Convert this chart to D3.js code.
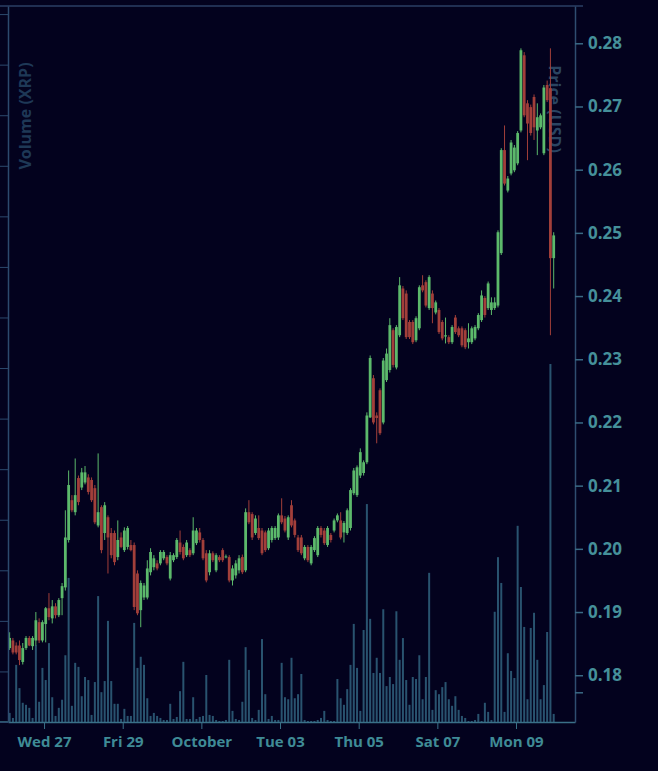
<!DOCTYPE html>
<html>
<head>
<meta charset="utf-8">
<script src="https://cdn.jsdelivr.net/npm/d3@7"></script>
<style>
  html, body { margin: 0; padding: 0; background: #03021e; }
  svg { display: block; }
  .labels { font-family: "Open Sans", sans-serif; font-weight: 700; font-size: 16px; }
  .tick text { font-family: "Open Sans", sans-serif; font-weight: 700; }
</style>
</head>
<body>
<svg id="candles"></svg>
<script>
// 2 hour candles, XRP/USD, Sep 26 - Oct 10 2017
let firstCandle = new Date(2017, 8, 26, 3);
let stepHours = 2;

let open = [
  0.1843,0.1855,0.1847,0.1847,0.1821,0.1843,0.1859,0.1846,0.1855,0.1884,
  0.1855,0.1881,0.1906,0.1890,0.1909,0.1895,0.1922,0.1939,0.2014,0.2077,
  0.2058,0.2112,0.2097,0.2105,0.2113,0.2109,0.2096,0.2037,0.2066,0.2025,
  0.2050,0.2025,0.2025,0.1987,0.2018,0.1998,0.2003,0.2006,0.2006,0.1961,
  0.1903,0.1923,0.1923,0.1963,0.1971,0.1977,0.1977,0.1985,0.1987,0.1953,
  0.1982,0.1987,0.2010,0.2003,0.1990,0.1998,0.1993,0.2009,0.2026,0.2014,
  0.1993,0.1963,0.1993,0.1966,0.1987,0.1998,0.1987,0.1987,0.1950,0.1958,
  0.1966,0.1987,0.1966,0.2058,0.2055,0.2025,0.2033,0.2029,0.2026,0.2001,
  0.2014,0.2017,0.2018,0.2053,0.2048,0.2018,0.2069,0.2045,0.2018,0.2018,
  0.1985,0.2003,0.1977,0.1998,0.1990,0.2033,0.2029,0.2006,0.2022,0.2029,
  0.2045,0.2045,0.2026,0.2025,0.2033,0.2088,0.2085,0.2116,0.2120,0.2137,
  0.2208,0.2270,0.2211,0.2251,0.2200,0.2267,0.2283,0.2346,0.2287,0.2338,
  0.2412,0.2404,0.2359,0.2359,0.2330,0.2349,0.2417,0.2422,0.2381,0.2404,
  0.2374,0.2378,0.2359,0.2336,0.2335,0.2327,0.2366,0.2349,0.2349,0.2346,
  0.2327,0.2327,0.2333,0.2349,0.2362,0.2397,0.2381,0.2378,0.2381,0.2385,
  0.2468,0.2631,0.2567,0.2594,0.2599,0.2610,0.2662,0.2781,0.2705,0.2699,
  0.2715,0.2662,0.2667,0.2626,0.2734,0.2729,0.2460
];
let high = [
  0.1868,0.1859,0.1852,0.1855,0.1851,0.1862,0.1862,0.1862,0.1900,0.1890,
  0.1887,0.1908,0.1930,0.1919,0.1914,0.1922,0.1946,0.2061,0.2124,0.2085,
  0.2143,0.2116,0.2128,0.2131,0.2118,0.2113,0.2101,0.2151,0.2069,0.2074,
  0.2053,0.2033,0.2029,0.2045,0.2026,0.2034,0.2036,0.2014,0.2010,0.1966,
  0.1950,0.1946,0.1982,0.2001,0.1990,0.1982,0.1998,0.1998,0.1990,0.1995,
  0.1993,0.2017,0.2029,0.2007,0.2014,0.2001,0.2050,0.2033,0.2033,0.2017,
  0.1998,0.1998,0.1996,0.1993,0.1990,0.2001,0.1991,0.1990,0.1974,0.1982,
  0.1990,0.1991,0.2064,0.2077,0.2058,0.2053,0.2053,0.2033,0.2029,0.2033,
  0.2036,0.2036,0.2056,0.2080,0.2052,0.2053,0.2077,0.2048,0.2022,0.2022,
  0.2006,0.2006,0.2006,0.2020,0.2036,0.2036,0.2033,0.2036,0.2025,0.2048,
  0.2056,0.2058,0.2044,0.2064,0.2096,0.2128,0.2132,0.2159,0.2140,0.2216,
  0.2306,0.2275,0.2216,0.2254,0.2302,0.2317,0.2365,0.2349,0.2354,0.2430,
  0.2416,0.2409,0.2362,0.2362,0.2368,0.2417,0.2433,0.2425,0.2433,0.2409,
  0.2393,0.2381,0.2362,0.2366,0.2338,0.2354,0.2370,0.2352,0.2352,0.2349,
  0.2357,0.2352,0.2354,0.2373,0.2409,0.2400,0.2423,0.2398,0.2398,0.2504,
  0.2634,0.2670,0.2590,0.2647,0.2639,0.2661,0.2792,0.2786,0.2710,0.2703,
  0.2719,0.2705,0.2689,0.2734,0.2741,0.2792,0.2501
];
let low = [
  0.1840,0.1833,0.1833,0.1816,0.1817,0.1840,0.1846,0.1840,0.1847,0.1851,
  0.1852,0.1852,0.1887,0.1882,0.1890,0.1892,0.1895,0.1934,0.2010,0.2058,
  0.2053,0.2069,0.2093,0.2102,0.2086,0.2074,0.2039,0.2034,0.1993,0.2014,
  0.1961,0.1985,0.1974,0.1982,0.2001,0.1995,0.1999,0.1996,0.1903,0.1895,
  0.1876,0.1919,0.1920,0.1958,0.1966,0.1966,0.1974,0.1982,0.1974,0.1950,
  0.1979,0.1984,0.1991,0.1982,0.1987,0.1987,0.1990,0.2006,0.2010,0.1982,
  0.1947,0.1958,0.1979,0.1963,0.1979,0.1979,0.1985,0.1947,0.1942,0.1953,
  0.1961,0.1960,0.1963,0.2039,0.2014,0.2022,0.2014,0.1990,0.1995,0.1998,
  0.2010,0.2014,0.2014,0.2039,0.2026,0.2014,0.2034,0.2018,0.1995,0.1990,
  0.1982,0.1979,0.1974,0.1995,0.1987,0.2018,0.2006,0.2003,0.2010,0.2026,
  0.2042,0.2015,0.2010,0.2022,0.2029,0.2085,0.2082,0.2112,0.2116,0.2134,
  0.2207,0.2197,0.2167,0.2180,0.2197,0.2264,0.2279,0.2287,0.2284,0.2335,
  0.2362,0.2332,0.2332,0.2324,0.2327,0.2346,0.2406,0.2382,0.2378,0.2357,
  0.2371,0.2340,0.2330,0.2325,0.2324,0.2324,0.2340,0.2335,0.2319,0.2316,
  0.2317,0.2324,0.2330,0.2346,0.2359,0.2366,0.2378,0.2370,0.2378,0.2382,
  0.2465,0.2575,0.2564,0.2591,0.2596,0.2607,0.2659,0.2683,0.2615,0.2654,
  0.2647,0.2623,0.2664,0.2623,0.2707,0.2338,0.2412
];
let close = [
  0.1859,0.1836,0.1836,0.1824,0.1843,0.1859,0.1847,0.1859,0.1887,0.1855,
  0.1884,0.1906,0.1892,0.1909,0.1895,0.1919,0.1941,0.2018,0.2101,0.2061,
  0.2085,0.2074,0.2121,0.2121,0.2090,0.2077,0.2042,0.2058,0.1998,0.2069,
  0.2018,0.1990,0.1979,0.2014,0.2003,0.2029,0.2033,0.1998,0.1908,0.1898,
  0.1946,0.1942,0.1969,0.1995,0.1985,0.1969,0.1995,0.1995,0.1977,0.1990,
  0.1990,0.2014,0.1995,0.1985,0.2010,0.1990,0.2029,0.2029,0.2014,0.1985,
  0.1950,0.1993,0.1982,0.1990,0.1982,0.1982,0.1988,0.1950,0.1969,0.1977,
  0.1985,0.1963,0.2058,0.2042,0.2018,0.2048,0.2017,0.1993,0.1998,0.2029,
  0.2033,0.2033,0.2053,0.2042,0.2029,0.2050,0.2037,0.2022,0.1998,0.1993,
  0.2003,0.1982,0.2003,0.2017,0.2033,0.2022,0.2009,0.2033,0.2014,0.2045,
  0.2053,0.2018,0.2041,0.2061,0.2093,0.2124,0.2129,0.2153,0.2137,0.2211,
  0.2302,0.2200,0.2207,0.2183,0.2298,0.2309,0.2354,0.2291,0.2351,0.2417,
  0.2365,0.2335,0.2335,0.2327,0.2365,0.2414,0.2409,0.2385,0.2430,0.2381,
  0.2390,0.2343,0.2333,0.2338,0.2327,0.2351,0.2343,0.2338,0.2322,0.2319,
  0.2333,0.2349,0.2351,0.2370,0.2401,0.2370,0.2420,0.2390,0.2390,0.2501,
  0.2631,0.2578,0.2586,0.2643,0.2635,0.2658,0.2789,0.2686,0.2673,0.2658,
  0.2667,0.2683,0.2686,0.2730,0.2710,0.2460,0.2496
];
// volume in millions of XRP
let volume = [
  0.18,0.08,1.13,0.67,0.38,0.34,0.28,0.08,1.52,0.40,
  1.07,0.83,1.56,0.49,0.12,0.28,0.44,1.32,2.85,0.32,
  1.17,1.09,0.51,0.89,0.83,0.14,0.79,2.49,0.59,0.81,
  2.00,0.81,0.36,0.36,0.06,0.26,0.12,0.12,1.96,1.07,
  1.29,1.13,0.47,0.12,0.18,0.12,0.08,0.04,0.04,0.36,
  0.06,0.10,0.61,1.19,0.06,0.06,0.49,0.06,0.10,0.12,
  0.93,0.14,0.12,0.04,0.02,0.02,0.04,1.23,0.22,0.06,
  0.04,0.40,1.48,1.03,0.08,0.04,0.24,1.64,0.55,0.06,
  0.12,0.04,0.04,1.17,0.49,0.45,1.27,0.47,0.55,0.95,
  0.04,0.02,0.02,0.02,0.04,0.08,0.22,0.04,0.02,0.02,
  0.85,0.47,0.34,0.65,1.13,1.94,1.07,0.22,1.82,4.31,
  2.04,0.97,1.27,0.97,2.23,0.71,0.89,0.75,2.19,1.23,
  1.66,0.83,0.34,0.89,0.85,1.32,0.45,0.89,2.95,0.24,
  0.63,0.55,0.69,0.79,0.45,0.32,0.51,0.24,0.12,0.08,
  0.02,0.02,0.04,0.16,0.02,0.38,0.20,0.04,2.18,3.26,
  2.75,0.20,1.36,1.01,0.87,3.88,2.67,1.88,0.45,1.86,
  2.16,1.23,0.45,0.73,1.78,7.08,0.16
];

let dayTicks = [
  new Date(2017, 8, 27), new Date(2017, 8, 29), new Date(2017, 9, 1),
  new Date(2017, 9, 3), new Date(2017, 9, 5), new Date(2017, 9, 7), new Date(2017, 9, 9)
];
let dayLabels = ["Wed 27", "Fri 29", "October", "Tue 03", "Thu 05", "Sat 07", "Mon 09"];
let priceTicks = [0.18, 0.19, 0.20, 0.21, 0.22, 0.23, 0.24, 0.25, 0.26, 0.27, 0.28, 0.1773];
let volTicks = [0, 1, 2, 3, 4, 5, 6, 7, 8, 9, 10, 11, 12, 13, 14];

function makeChart() {
  let w = 658;
  let h = 771;

  let marginT = 6;
  let marginL = 8;
  let marginR = 83;
  let marginB = 49;

  let green = '#5cb96b';
  let red = '#a23f3a';

  let dataset = open.map((o, i) => ({
    date: d3.timeHour.offset(firstCandle, i * stepHours),
    open: o, high: high[i], low: low[i], close: close[i], volume: volume[i]
  }));

  let chart = d3.select('#candles')
    .attr('width', w)
    .attr('height', h);

  let xScale = d3.scaleTime()
    .domain([new Date(2017, 8, 26, 2), new Date(2017, 9, 10, 12)])
    .range([marginL, w - marginR]);

  let yScale = d3.scaleLinear()
    .domain([0.1726, 0.2859])
    .range([h - marginB, marginT]);

  let vScale = d3.scaleLinear()
    .domain([0, 14.16])
    .range([h - marginB, marginT]);

  let barwidth = 2.8;

  //frame lines
  chart.append('line')
    .attr('x1', 0).attr('x2', w - marginR + 8)
    .attr('y1', marginT).attr('y2', marginT)
    .attr('stroke', '#2b3f64').attr('stroke-width', 1.5);

  chart.append('line')
    .attr('x1', 0).attr('x2', marginL)
    .attr('y1', h - marginB).attr('y2', h - marginB)
    .attr('stroke', '#3a7088').attr('stroke-width', 1.5);

  //axis titles sit under the marks
  chart.append('text')
    .attr('class', 'labels')
    .attr('transform', 'rotate(-90)')
    .attr('x', -116)
    .attr('y', 31)
    .style('text-anchor', 'middle')
    .style('fill', '#1e3856')
    .text('Volume (XRP)');

  chart.append('text')
    .attr('class', 'labels')
    .attr('transform', 'rotate(90)')
    .attr('x', 109)
    .attr('y', -549)
    .style('text-anchor', 'middle')
    .style('fill', '#2a4562')
    .text('Price (USD)');

  //volume bars
  chart.append('g')
    .selectAll('rect')
    .data(dataset)
    .enter()
    .append('rect')
    .attr('x', d => xScale(d.date) - 1)
    .attr('y', d => vScale(d.volume))
    .attr('width', 2)
    .attr('height', d => vScale(0) - vScale(d.volume))
    .style('fill', '#29536f');

  //candles
  let candles = chart.append('g')
    .selectAll('g')
    .data(dataset)
    .enter()
    .append('g')
    .style('fill', d => d.close >= d.open ? green : red)
    .style('stroke', d => d.close >= d.open ? green : red);

  candles.append('line')
    .attr('x1', d => xScale(d.date))
    .attr('x2', d => xScale(d.date))
    .attr('y1', d => yScale(d.high))
    .attr('y2', d => yScale(d.low))
    .attr('stroke-width', 1);

  candles.append('rect')
    .attr('x', d => xScale(d.date) - barwidth / 2)
    .attr('y', d => yScale(Math.max(d.open, d.close)))
    .attr('width', barwidth)
    .attr('height', d => Math.max(1, Math.abs(yScale(d.open) - yScale(d.close))))
    .style('stroke', 'none');

  //AXES
  let xAxis = d3.axisBottom(xScale)
    .tickValues(dayTicks)
    .tickFormat((d, i) => dayLabels[i])
    .tickSize(7)
    .tickSizeOuter(0)
    .tickPadding(7);

  let gx = chart.append('g')
    .attr('transform', `translate(0, ${h - marginB})`)
    .attr('color', '#3a7088')
    .call(xAxis);
  gx.select('.domain').attr('stroke-width', 1.5);
  gx.selectAll('text')
    .style('fill', '#3f8b96')
    .style('font-size', '15px');

  let yAxis = d3.axisRight(yScale)
    .tickValues(priceTicks)
    .tickFormat(d => d > 0.178 ? d3.format('.2f')(d) : '')
    .tickSize(8)
    .tickSizeOuter(0)
    .tickPadding(5);

  let gy = chart.append('g')
    .attr('transform', `translate(${w - marginR}, 0)`)
    .attr('color', '#2f4d70')
    .call(yAxis);
  gy.select('.domain').attr('stroke-width', 1.5);
  gy.selectAll('line').attr('stroke', '#3a6a85').attr('stroke-width', 1.5);
  gy.selectAll('text')
    .style('fill', '#45909a')
    .style('font-size', '17px');

  let vAxis = d3.axisLeft(vScale)
    .tickValues(volTicks)
    .tickFormat('')
    .tickSize(8)
    .tickSizeOuter(0);

  let gv = chart.append('g')
    .attr('transform', `translate(${marginL}, 0)`)
    .attr('color', '#2c4a6e')
    .call(vAxis);
  gv.select('.domain').attr('stroke-width', 1.5);
}

window.onload = function () {
  makeChart();
}
</script>
</body>
</html>
